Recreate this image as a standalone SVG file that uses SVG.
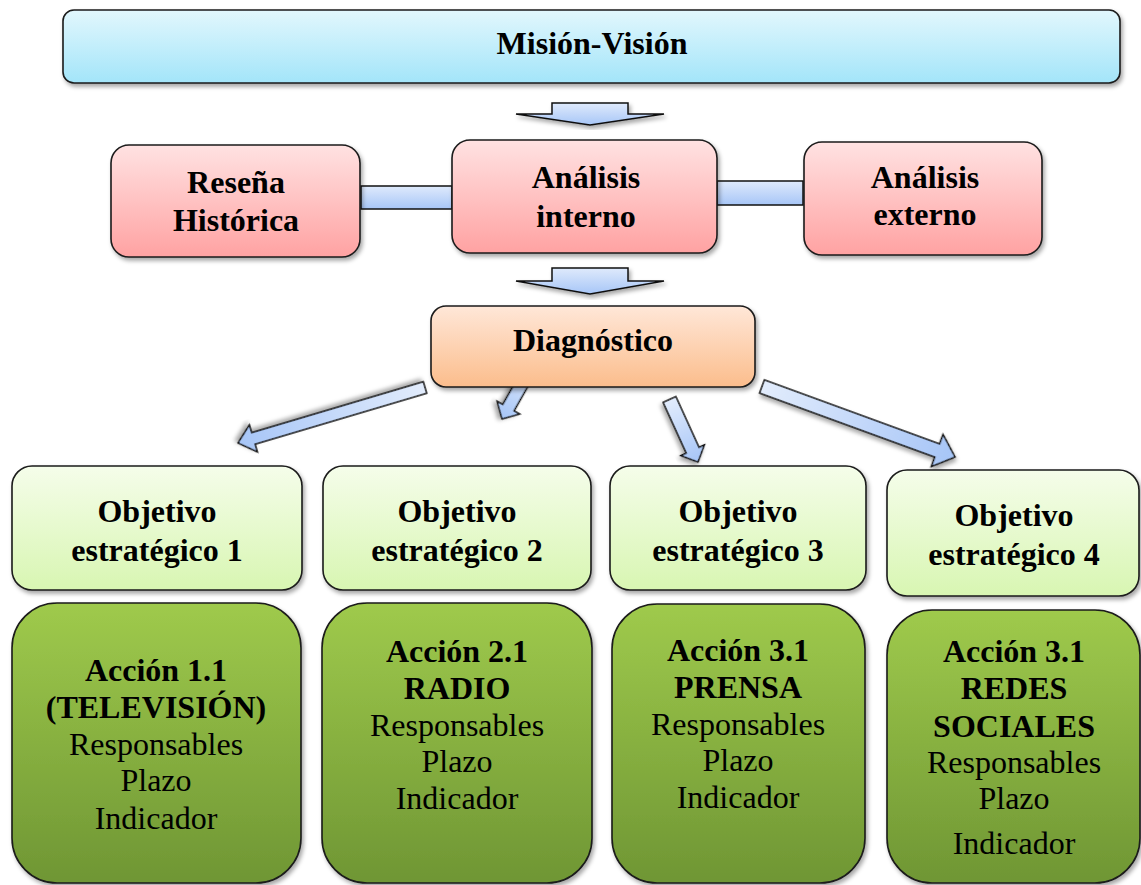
<svg xmlns="http://www.w3.org/2000/svg" width="1141" height="885" viewBox="0 0 1141 885">
<defs>
<linearGradient id="gMission" x1="0" y1="0" x2="0" y2="1"><stop offset="0" stop-color="#e2f7fd"/><stop offset="1" stop-color="#a3e5f9"/></linearGradient>
<linearGradient id="gPink" x1="0" y1="0" x2="0" y2="1"><stop offset="0" stop-color="#ffe2e2"/><stop offset="1" stop-color="#ffa2a2"/></linearGradient>
<linearGradient id="gOrange" x1="0" y1="0" x2="0" y2="1"><stop offset="0" stop-color="#ffe7d8"/><stop offset="1" stop-color="#fbbd8c"/></linearGradient>
<linearGradient id="gLight" x1="0" y1="0" x2="0" y2="1"><stop offset="0" stop-color="#f5fdea"/><stop offset="1" stop-color="#d8f6b2"/></linearGradient>
<linearGradient id="gGreen" x1="0" y1="0" x2="0" y2="1"><stop offset="0" stop-color="#9fca4c"/><stop offset="1" stop-color="#6f9634"/></linearGradient>
<linearGradient id="gArrow" x1="0" y1="0" x2="0" y2="1"><stop offset="0" stop-color="#dfeafc"/><stop offset="1" stop-color="#a7c6f7"/></linearGradient>
<linearGradient id="gArrowH" x1="0" y1="0" x2="1" y2="0"><stop offset="0" stop-color="#e2ecfc"/><stop offset="1" stop-color="#a6c5f7"/></linearGradient>
<filter id="sh" x="-10%" y="-10%" width="120%" height="130%"><feDropShadow dx="2" dy="3" stdDeviation="2" flood-color="#000" flood-opacity="0.35"/></filter>
<style>
.box{stroke:#1a1a1a;stroke-width:1.6;filter:url(#sh)}
.arr{fill:url(#gArrowH);stroke:#111;stroke-width:1.5;stroke-linejoin:miter;filter:url(#sh)}
.darr{fill:url(#gArrow);stroke:#111;stroke-width:1.5;filter:url(#sh)}
.bar{fill:url(#gArrow);stroke:#111;stroke-width:1.5}
text{font-family:"Liberation Serif","Times New Roman",serif;font-size:32px;fill:#000;text-anchor:middle}
.b{font-weight:bold}
</style>
</defs>

<g id="connectors">
<path class="darr" d="M552,103 H628 V114 H664 L590,125 L516,114 H552 Z"/>
<path class="darr" d="M552,268 H628 V281 H664 L590,294 L516,281 H552 Z"/>
<rect class="bar" x="361" y="186" width="91" height="23"/>
<rect class="bar" x="717" y="181" width="86" height="24"/>
<path class="arr" transform="translate(425,387.5) rotate(163.47)" d="M0,-6 H179 V-14 L195,0 L179,14 V6 H0 Z"/>
<path class="arr" transform="translate(532.5,365) rotate(119.46)" d="M0,-6.5 H49 V-13 L62,0 L49,13 V6.5 H0 Z"/>
<path class="arr" transform="translate(669.5,399.5) rotate(65.5)" d="M0,-7 H55.7 V-13 L68.7,0 L55.7,13 V7 H0 Z"/>
<path class="arr" transform="translate(762,386.5) rotate(20.07)" d="M0,-7 H186.5 V-17 L205.5,0 L186.5,17 V7 H0 Z"/>
</g>

<g id="mision">
<rect class="box" x="63" y="10" width="1057" height="73" rx="11" fill="url(#gMission)"/>
<text class="b" x="592" y="54">Misión-Visión</text>
</g>

<g id="resena">
<rect class="box" x="111" y="145" width="249" height="112" rx="18" fill="url(#gPink)"/>
<text class="b" x="236" y="193">Reseña</text>
<text class="b" x="236" y="231">Histórica</text>
</g>

<g id="analisis-interno">
<rect class="box" x="452" y="140" width="265" height="113" rx="18" fill="url(#gPink)"/>
<text class="b" x="586" y="188">Análisis</text>
<text class="b" x="586" y="227">interno</text>
</g>

<g id="analisis-externo">
<rect class="box" x="804" y="142" width="238" height="113" rx="18" fill="url(#gPink)"/>
<text class="b" x="925" y="188">Análisis</text>
<text class="b" x="925" y="225">externo</text>
</g>

<g id="diagnostico">
<rect class="box" x="431" y="306" width="324" height="81" rx="15" fill="url(#gOrange)"/>
<text class="b" x="593" y="351">Diagnóstico</text>
</g>

<g id="objetivo1">
<rect class="box" x="12" y="466" width="290" height="124" rx="20" fill="url(#gLight)"/>
<text class="b" x="157" y="522">Objetivo</text>
<text class="b" x="157" y="561">estratégico 1</text>
</g>

<g id="objetivo2">
<rect class="box" x="323" y="466" width="268" height="124" rx="20" fill="url(#gLight)"/>
<text class="b" x="457" y="522">Objetivo</text>
<text class="b" x="457" y="561">estratégico 2</text>
</g>

<g id="objetivo3">
<rect class="box" x="610" y="466" width="256" height="124" rx="20" fill="url(#gLight)"/>
<text class="b" x="738" y="522">Objetivo</text>
<text class="b" x="738" y="561">estratégico 3</text>
</g>

<g id="objetivo4">
<rect class="box" x="887" y="470" width="252" height="126" rx="20" fill="url(#gLight)"/>
<text class="b" x="1014" y="526">Objetivo</text>
<text class="b" x="1014" y="565">estratégico 4</text>
</g>

<g id="accion1">
<rect class="box" x="12" y="603" width="289" height="280" rx="45" fill="url(#gGreen)"/>
<text class="b" x="156" y="681">Acción 1.1</text>
<text class="b" x="156" y="718">(TELEVISIÓN)</text>
<text x="156" y="755">Responsables</text>
<text x="156" y="791">Plazo</text>
<text x="156" y="829">Indicador</text>
</g>

<g id="accion2">
<rect class="box" x="322" y="603" width="270" height="280" rx="45" fill="url(#gGreen)"/>
<text class="b" x="457" y="662">Acción 2.1</text>
<text class="b" x="457" y="699">RADIO</text>
<text x="457" y="736">Responsables</text>
<text x="457" y="772">Plazo</text>
<text x="457" y="809">Indicador</text>
</g>

<g id="accion3">
<rect class="box" x="612" y="604" width="253" height="279" rx="45" fill="url(#gGreen)"/>
<text class="b" x="738" y="661">Acción 3.1</text>
<text class="b" x="738" y="698">PRENSA</text>
<text x="738" y="735">Responsables</text>
<text x="738" y="771">Plazo</text>
<text x="738" y="808">Indicador</text>
</g>

<g id="accion4">
<rect class="box" x="887" y="610" width="253" height="273" rx="45" fill="url(#gGreen)"/>
<text class="b" x="1014" y="662">Acción 3.1</text>
<text class="b" x="1014" y="699">REDES</text>
<text class="b" x="1014" y="737">SOCIALES</text>
<text x="1014" y="773">Responsables</text>
<text x="1014" y="809">Plazo</text>
<text x="1014" y="854">Indicador</text>
</g>
</svg>
